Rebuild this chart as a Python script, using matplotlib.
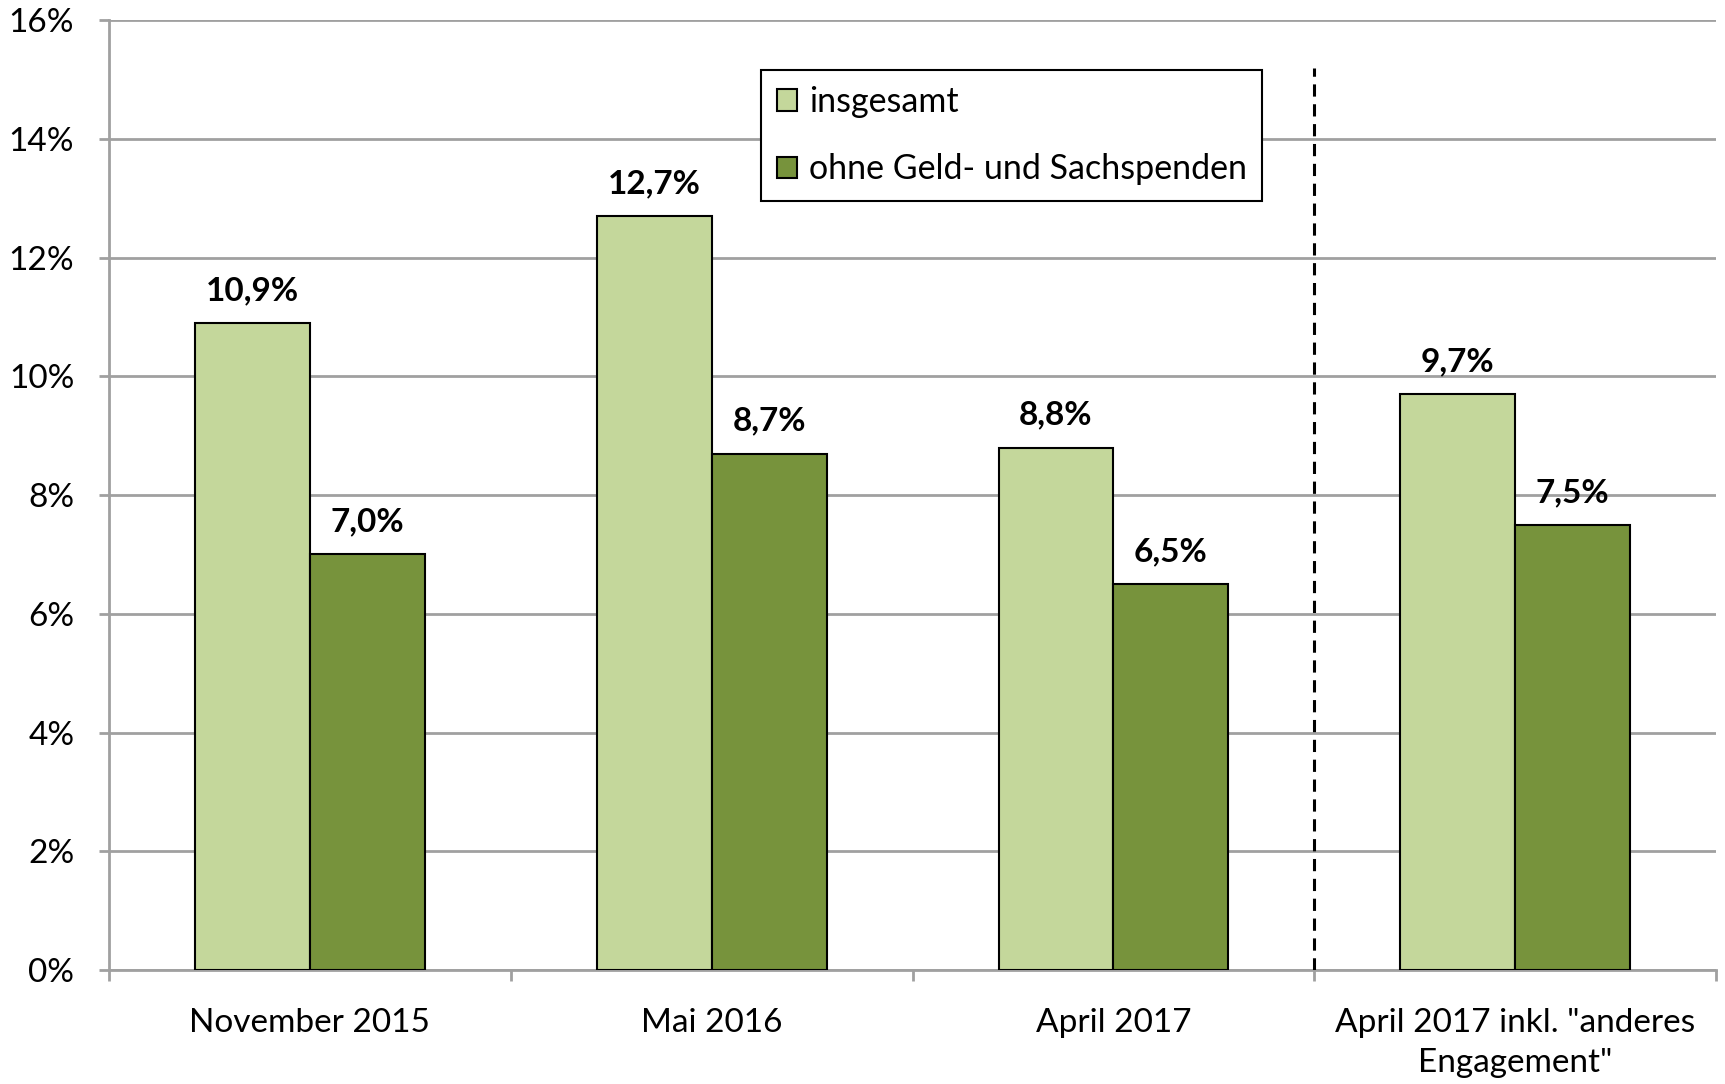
import numpy as np
import matplotlib
matplotlib.use('Agg')
import matplotlib.pyplot as plt
from matplotlib.ticker import FixedLocator

plt.rcParams['font.family'] = ['Lato', 'DejaVu Sans']

# Daten
kategorien = ['November 2015', 'Mai 2016', 'April 2017', 'April 2017 inkl. "anderes\nEngagement"']
insgesamt = [10.9, 12.7, 8.8, 9.7]
ohne_spenden = [7.0, 8.7, 6.5, 7.5]
serien = ['insgesamt', 'ohne Geld- und Sachspenden']
y_ticks = [0, 2, 4, 6, 8, 10, 12, 14, 16]

hell = '#c4d79b'
dunkel = '#77933c'
grau = '#a0a0a0'

fig = plt.figure(figsize=(17.25, 10.84), dpi=100)
ax = fig.add_axes([0.0632, 0.105, 0.9316, 0.8765])

x = np.arange(len(kategorien))
b = 0.286
ax.bar(x - b / 2, insgesamt, b, color=hell, edgecolor='black', linewidth=1.5, label=serien[0], zorder=3)
ax.bar(x + b / 2, ohne_spenden, b, color=dunkel, edgecolor='black', linewidth=1.5, label=serien[1], zorder=3)

for xi, v in zip(x - b / 2, insgesamt):
    ax.text(xi, v + 0.3, f'{v:.1f}%'.replace('.', ','), ha='center', va='bottom',
            fontsize=24, fontweight='bold', zorder=4)
for xi, v in zip(x + b / 2, ohne_spenden):
    ax.text(xi, v + 0.3, f'{v:.1f}%'.replace('.', ','), ha='center', va='bottom',
            fontsize=24, fontweight='bold', zorder=4)

ax.set_xlim(-0.5, 3.5)
ax.set_ylim(0, 16)
ax.set_yticks(y_ticks)
ax.set_yticklabels([f'{t}%' for t in y_ticks], fontsize=24)
ax.yaxis.grid(True, color=grau, linewidth=2, zorder=0)

# Kategorie-Beschriftungen mittig, Teilstriche an den Grenzen
ax.set_xticks(x)
ax.set_xticklabels(kategorien, fontsize=24, linespacing=1.45)
ax.tick_params(axis='x', length=0, pad=27)
ax.xaxis.set_minor_locator(FixedLocator(np.arange(-0.5, 4, 1.0)))
ax.tick_params(axis='x', which='minor', length=8, width=2, color=grau)
ax.tick_params(axis='y', length=7, width=2, color=grau, pad=18)

for s in ['top', 'right']:
    ax.spines[s].set_visible(False)
for s in ['left', 'bottom']:
    ax.spines[s].set_color(grau)
    ax.spines[s].set_linewidth(2)

# Trennlinie
ax.plot([2.5, 2.5], [0, 15.2], color='black', linestyle=(0, (4, 2.5)), linewidth=2.2, zorder=4)

leg = ax.legend(loc='upper left', bbox_to_anchor=(0.406, 0.947), fontsize=24.5,
                frameon=True, fancybox=False, edgecolor='black', framealpha=1,
                handlelength=0.6, handleheight=0.6, handletextpad=0.35,
                labelspacing=1.05, borderpad=0.45, borderaxespad=0)
leg.get_frame().set_linewidth(1.5)

plt.savefig('out.png', dpi=100)
plt.close()
